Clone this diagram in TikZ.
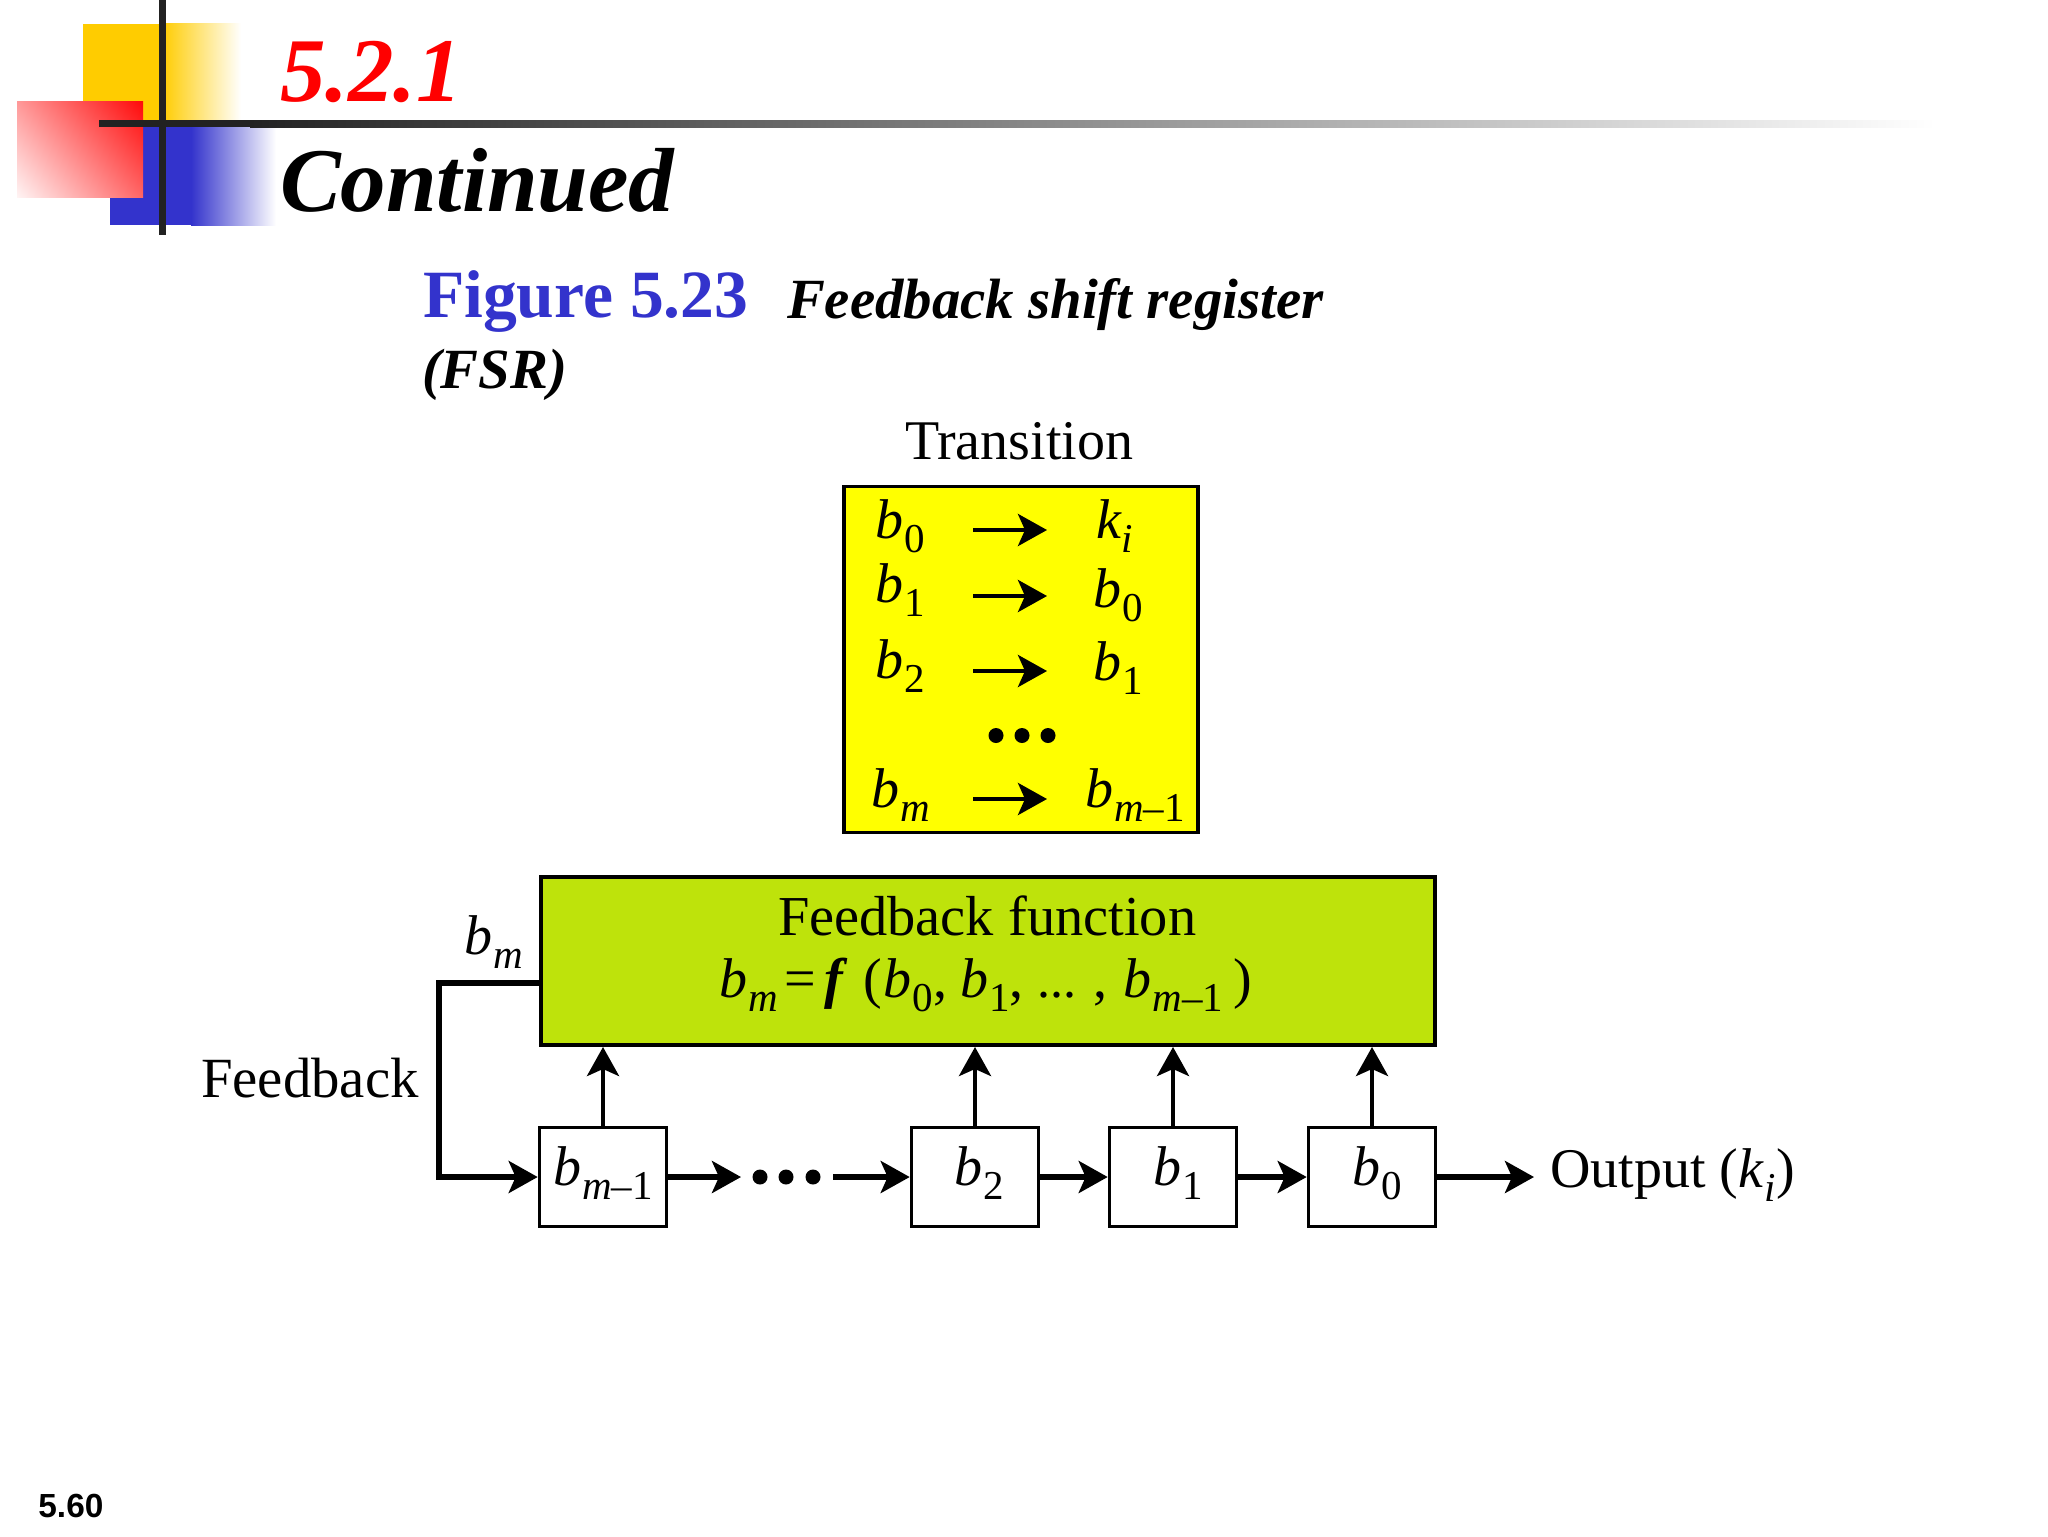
\documentclass[tikz,border=0pt]{standalone}
\usepackage{fontspec}
\setmainfont{Liberation Serif}
\usetikzlibrary{arrows.meta}
\definecolor{slideyellow}{HTML}{FFCC00}
\definecolor{slideblue}{HTML}{3333CC}
\definecolor{slidered}{HTML}{FF0000}
\definecolor{slidebar}{HTML}{222222}
\definecolor{boxyellow}{HTML}{FFFF00}
\definecolor{boxgreen}{HTML}{BEE30B}
\newcommand{\mainf}{\fontsize{28}{30}\selectfont}
\newcommand{\subf}{\fontsize{20.5}{22}\selectfont}
\newcommand{\bs}[2]{{\itshape #1}\kern0.5pt\raisebox{-7pt}{\subf #2}}
\newcommand{\mi}{{\itshape m}}
\newcommand{\mone}{{\itshape m}–1}
\pgfdeclareverticalshading{redfade}{100bp}{color(0bp)=(white); color(32bp)=(white); color(68bp)=(slidered); color(100bp)=(slidered)}
\tikzset{
  x=0.5pt,y=-0.5pt,
  txt/.style={anchor=base west,inner sep=0pt,outer sep=0pt,font=\mainf},
  arr/.style={-{Stealth[length=14.5pt,width=16pt,inset=3.5pt]},line width=2.2pt,black},
  harr/.style={arr,line width=2.6pt},
  regbox/.style={draw=black,line width=1.8pt,fill=white,minimum width=63.5pt,minimum height=49.5pt,inner sep=0pt},
  dotn/.style={circle,fill=black,inner sep=0pt,minimum size=7.5pt},
}
\begin{document}
\begin{tikzpicture}
\useasboundingbox (0,0) rectangle (2048,1536);
\fill[white] (0,0) rectangle (2048,1536);
% decoration
\fill[slideyellow] (83,24) rectangle (162,124);
\shade[left color=slideyellow,right color=white] (162,24) rectangle (241,124);
\fill[slideblue] (110,120) rectangle (191,225);
\shade[left color=slideblue,right color=white] (191,120) rectangle (276,225);
\begin{scope}
\clip (17,102) rectangle (143,197);
\shade[shading=redfade,shading angle=-50] (-40,30) rectangle (200,270);
\end{scope}
\fill[slidebar] (99,119.5) rectangle (250,127);
\shade[left color=slidebar,right color=white] (250,120) rectangle (1935,127);
\fill[slidebar] (159,0) rectangle (166,235);
% titles
\node[txt,font=\fontsize{45.5}{48}\selectfont\bfseries\itshape,text=slidered] (sec) at (280,102) {5.2.1};
\node[txt,font=\fontsize{45.5}{48}\selectfont\bfseries\itshape] (cont) at (280,211) {Continued};
\node[txt,font=\fontsize{33.8}{36}\selectfont\bfseries,text=slideblue] (figno) at (423,317) {Figure 5.23};
\node[txt,font=\fontsize{28.4}{30}\selectfont\bfseries\itshape] (figcap) at (787,318) {Feedback shift register};
\node[txt,font=\fontsize{28.4}{30}\selectfont\bfseries\itshape] (fsr) at (422,388) {(FSR)};
% transition box
\node[txt] (trans) at (905,459) {Transition};
\node[draw=black,line width=1.8pt,fill=boxyellow,minimum width=177pt,minimum height=173pt,inner sep=0pt] (tbox) at (1021,659.5) {};
\node[txt] (l0) at (875,538) {\bs{b}{0}};
\node[txt] (r0) at (1096,538) {\bs{k}{\itshape i}};
\node[txt] (l1) at (875,602) {\bs{b}{1}};
\node[txt] (r1) at (1093,607) {\bs{b}{0}};
\node[txt] (l2) at (875,678) {\bs{b}{2}};
\node[txt] (r2) at (1093,680) {\bs{b}{1}};
\node[txt] (lm) at (871,807) {\bs{b}{\mi}};
\node[txt] (rm) at (1085,807) {\bs{b}{\mone}};
\coordinate (a0s) at (973,530); \coordinate (a0e) at (1047,530);
\coordinate (a1s) at (973,596); \coordinate (a1e) at (1047,596);
\coordinate (a2s) at (973,671); \coordinate (a2e) at (1047,671);
\coordinate (ams) at (973,799); \coordinate (ame) at (1047,799);
\draw[arr] (a0s) -- (a0e);
\draw[arr] (a1s) -- (a1e);
\draw[arr] (a2s) -- (a2e);
\draw[arr] (ams) -- (ame);
\node[dotn] (td1) at (996,735.5) {};
\node[dotn] (td2) at (1022,735.5) {};
\node[dotn] (td3) at (1048,735.5) {};
% feedback function
\node[draw=black,line width=2pt,fill=boxgreen,minimum width=447pt,minimum height=84pt,inner sep=0pt] (fb) at (988,961) {};
\node[txt,font=\fontsize{28.2}{30}\selectfont] (fbt) at (778,935) {Feedback function};
\node[txt] (fbe) at (719,997) {\bs{b}{\mi}\kern3.5pt=\kern4pt{\bfseries\itshape f}\kern10.5pt(\kern0.5pt\bs{b}{0},\kern6.5pt\bs{b}{1},\kern7pt{\fontsize{26}{28}\selectfont ...}\kern8.5pt,\kern8pt\bs{b}{\mone}\kern5pt)};
% registers
\node[regbox] (bm1) at (603,1177) {};
\node[regbox] (b2) at (975,1177) {};
\node[regbox] (b1) at (1173,1177) {};
\node[regbox] (b0) at (1372,1177) {};
\node[txt] (bm1t) at (553,1185) {\bs{b}{\mone}};
\node[txt] (b2t) at (954,1185) {\bs{b}{2}};
\node[txt] (b1t) at (1153,1185) {\bs{b}{1}};
\node[txt] (b0t) at (1352,1185) {\bs{b}{0}};
% connectors
\draw[arr] (bm1.north) -- (bm1.north |- fb.south);
\draw[arr] (b2.north) -- (b2.north |- fb.south);
\draw[arr] (b1.north) -- (b1.north |- fb.south);
\draw[arr] (b0.north) -- (b0.north |- fb.south);
\coordinate (fbl) at (540,983);
\coordinate (fbc) at (439,983);
\coordinate (fbd) at (439,1177);
\draw[harr,line join=miter] (fbl) -- (fbc) -- (fbd) -- (bm1.west);
\node[dotn] (d1) at (760,1177) {};
\node[dotn] (d2) at (786,1177) {};
\node[dotn] (d3) at (813,1177) {};
\coordinate (dl) at (741,1177);
\coordinate (dr) at (833,1177);
\coordinate (outp) at (1534,1177);
\draw[harr] (bm1.east) -- (dl);
\draw[harr] (dr) -- (b2.west);
\draw[harr] (b2.east) -- (b1.west);
\draw[harr] (b1.east) -- (b0.west);
\draw[harr] (b0.east) -- (outp);
% labels
\node[txt,font=\fontsize{28.4}{30}\selectfont] (fbk) at (201,1097) {Feedback};
\node[txt] (bml) at (464,954) {\bs{b}{\mi}};
\node[txt] (out) at (1550,1187) {Output (\bs{k}{\itshape i}\kern0.5pt)};
\node[anchor=base west,inner sep=0pt,font=\fontsize{16.7}{18}\selectfont\fontspec{Liberation Sans}\bfseries] (pg) at (38,1517) {5.60};
\end{tikzpicture}
\end{document}
